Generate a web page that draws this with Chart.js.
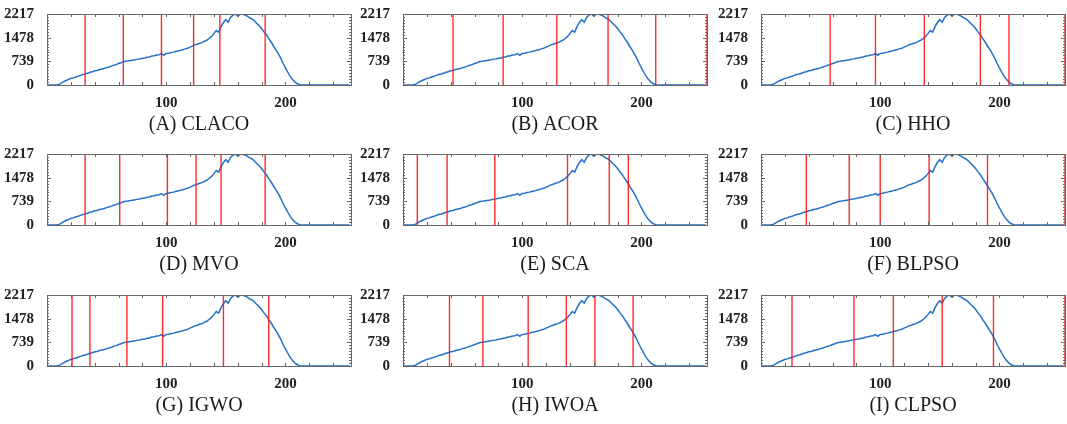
<!DOCTYPE html>
<html>
<head>
<meta charset="utf-8">
<script src="https://cdn.jsdelivr.net/npm/chart.js@4/dist/chart.umd.min.js"></script>
<style>
  html, body { margin: 0; padding: 0; background: #fff; }
  #wrap { position: relative; width: 1067px; height: 424px; overflow: hidden; }
  canvas { position: absolute; }
</style>
</head>
<body>
<div id="wrap"></div>
<script>
// histogram counts, one value per two grey levels (0, 2, 4 ... 254)
const counts = [
  0, 0, 0, 0, 0,
  15, 60, 108, 142, 172, 206, 222, 252, 270, 302,
  326, 341, 368, 398, 412, 444, 452, 482, 498, 518,
  542, 563, 588, 618, 636, 672, 696, 726, 738, 752,
  762, 776, 786, 808, 812, 838, 846, 866, 876, 904,
  916, 938, 946, 978, 930, 986, 992, 1014, 1026, 1048,
  1058, 1088, 1102, 1128, 1146, 1184, 1212, 1254, 1272, 1304,
  1322, 1364, 1398, 1452, 1518, 1604, 1700, 1650, 1822, 1950,
  2040, 1960, 2110, 2180, 2217, 2150, 2205, 2217, 2180, 2152,
  2098, 2062, 1998, 1922, 1848, 1762, 1658, 1572, 1448, 1342,
  1218, 1102, 978, 842, 680, 532, 398, 270, 168, 90,
  40, 10,
  0, 0, 0, 0, 0, 0, 0, 0, 0, 0, 0, 0, 0, 0, 0, 0, 0, 0, 0, 0, 0
];
const levels = counts.map((c, i) => i * 2);

const yTicks = [0, 739, 1478, 2217];
const xTicks = [100, 200];

const panelTitles = [
  "(A) CLACO", "(B) ACOR", "(C) HHO",
  "(D) MVO", "(E) SCA", "(F) BLPSO",
  "(G) IGWO", "(H) IWOA", "(I) CLPSO"
];

// threshold positions found by each algorithm
const thresholds = [
  [32, 64, 96, 123, 145, 183],
  [42, 84, 129, 172, 212, 255],
  [58, 96, 137, 184, 208, 255],
  [32, 61, 101, 125, 146, 183],
  [12, 37, 77, 138, 173, 189],
  [38, 74, 100, 141, 190, 255],
  [21, 36, 67, 97, 148, 186],
  [39, 67, 105, 137, 161, 193],
  [26, 78, 111, 152, 195, 255]
];

const colLeft = [0, 356, 714];
const rowTop = [0, 140, 281];

Chart.defaults.font.family = "'Liberation Serif', 'Times New Roman', serif";

// matlab-like box with inward ticks on all four sides
const boxTicks = {
  id: "boxTicks",
  afterDatasetsDraw(chart) {
    const ctx = chart.ctx;
    const a = chart.chartArea;
    const x = chart.scales.x;
    const y = chart.scales.y;
    ctx.save();
    ctx.strokeStyle = "#666";
    ctx.lineWidth = 1;
    ctx.beginPath();
    for (let v = 20; v < 255; v += 20) {
      const px = Math.round(x.getPixelForValue(v)) + 0.5;
      ctx.moveTo(px, a.bottom);
      ctx.lineTo(px, a.bottom - 3);
      ctx.moveTo(px, a.top);
      ctx.lineTo(px, a.top + 3);
    }
    for (let i = 1; i < 24; i++) {
      const py = Math.round(y.getPixelForValue(i * 2217 / 24)) + 0.5;
      const len = i % 8 === 0 ? 4 : 2;
      ctx.moveTo(a.left, py);
      ctx.lineTo(a.left + len, py);
      ctx.moveTo(a.right, py);
      ctx.lineTo(a.right - len, py);
    }
    ctx.stroke();
    ctx.strokeRect(Math.round(a.left) + 0.5, Math.round(a.top) + 0.5,
      Math.round(a.right - a.left), Math.round(a.bottom - a.top));
    ctx.restore();
  }
};

const wrap = document.getElementById("wrap");

panelTitles.forEach(function (title, k) {
  const canvas = document.createElement("canvas");
  canvas.width = 354;
  canvas.height = 140;
  canvas.style.left = colLeft[k % 3] + "px";
  canvas.style.top = rowTop[Math.floor(k / 3)] + "px";
  wrap.appendChild(canvas);

  const redLines = thresholds[k].map(function (t) {
    return {
      type: "line",
      data: [{ x: t, y: 0 }, { x: t, y: 2217 }],
      borderColor: "rgba(255, 20, 20, 0.9)",
      borderWidth: 1.4,
      pointRadius: 0,
      order: 0,
    };
  });

  new Chart(canvas.getContext("2d"), {
    type: "line",
    data: {
      datasets: [
        ...redLines,
        {
          data: levels.map((lv, i) => ({ x: lv, y: counts[i] })),
          borderColor: "#2270c8",
          borderWidth: 1.5,
          pointRadius: 0,
          tension: 0,
          order: 1,
        },
      ],
    },
    options: {
      responsive: false,
      animation: false,
      events: [],
      layout: { padding: { top: 13, right: 3, left: 0, bottom: 0 } },
      plugins: { legend: { display: false }, tooltip: { enabled: false } },
      scales: {
        x: {
          type: "linear",
          min: 0,
          max: 255,
          grid: { display: false },
          border: { display: false },
          afterBuildTicks: function (s) {
            s.ticks = xTicks.map((v) => ({ value: v }));
          },
          afterFit: function (s) {
            s.height = 55;
          },
          ticks: {
            padding: 1,
            color: "#222",
            font: { size: 15, weight: "bold" },
            callback: (v) => String(v),
          },
          title: {
            display: true,
            text: title,
            color: "#1a1a1a",
            font: { size: 20 },
            padding: { top: 0, bottom: 3 },
          },
        },
        y: {
          min: 0,
          max: 2217,
          grid: { display: false },
          border: { display: false },
          afterBuildTicks: function (s) {
            s.ticks = yTicks.map((v) => ({ value: v }));
          },
          afterFit: function (s) {
            s.width = 47;
          },
          ticks: {
            padding: 5,
            color: "#222",
            font: { size: 15, weight: "bold" },
            callback: (v) => String(v),
          },
        },
      },
    },
    plugins: [boxTicks],
  });
});
</script>
</body>
</html>
